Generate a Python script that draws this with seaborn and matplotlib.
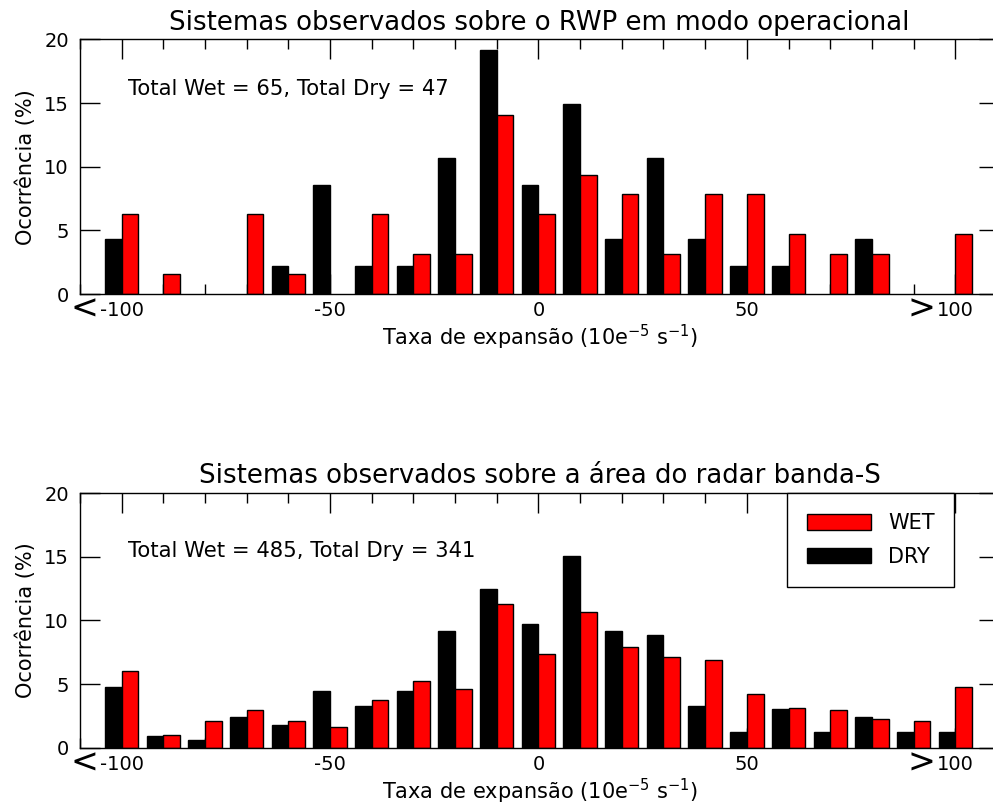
import numpy as np
import pandas as pd
import seaborn as sns
import matplotlib
matplotlib.use("Agg")
import matplotlib.pyplot as plt
from matplotlib.patches import Patch
from matplotlib.ticker import MultipleLocator

# Bin centres of the expansion-rate histogram (10e-5 s^-1)
centers = [-100, -90, -80, -70, -60, -50, -40, -30, -20, -10, 0,
           10, 20, 30, 40, 50, 60, 70, 80, 90, 100]

# Wind-profiler (RWP) operational-mode systems, occurrence (%)
rwp_dry = [4.29, 0.0, 0.0, 0.0, 2.20, 8.55, 2.20, 2.20, 10.67, 19.19, 8.55,
           14.90, 4.31, 10.67, 4.31, 2.20, 2.20, 0.0, 4.31, 0.0, 0.0]
rwp_wet = [6.27, 1.57, 0.0, 6.27, 1.57, 0.0, 6.27, 3.14, 3.14, 14.04, 6.27,
           9.39, 7.84, 3.14, 7.84, 7.84, 4.68, 3.14, 3.14, 0.0, 4.68]

# S-band radar area systems, occurrence (%)
sband_dry = [4.75, 0.92, 0.63, 2.39, 1.81, 4.46, 3.28, 4.46, 9.18, 12.46, 9.76,
             15.08, 9.18, 8.89, 3.28, 1.21, 3.02, 1.21, 2.39, 1.21, 1.21]
sband_wet = [6.06, 1.02, 2.10, 2.94, 2.10, 1.65, 3.75, 5.22, 4.59, 11.28, 7.34,
             10.65, 7.95, 7.11, 6.90, 4.20, 3.12, 2.94, 2.28, 2.10, 4.80]

titles = ["Sistemas observados sobre o RWP em modo operacional",
          "Sistemas observados sobre a área do radar banda-S"]
totals = ["Total Wet = 65, Total Dry = 47",
          "Total Wet = 485, Total Dry = 341"]
total_y = [15.6, 15.0]
major_ticks = [-100, -50, 0, 50, 100]
major_labels = ["-100", "-50", "0", "50", "100"]
xlabel = "Taxa de expansão (10e$^{-5}$ s$^{-1}$)"
ylabel = "Ocorrência (%)"
colors = {"DRY": "black", "WET": "red"}

sns.set_theme(style="ticks")
plt.rcParams["font.family"] = ["DejaVu Sans"]
plt.rcParams["mathtext.fontset"] = "dejavusans"
for key in ["text.color", "axes.labelcolor", "xtick.color", "ytick.color",
            "axes.edgecolor"]:
    plt.rcParams[key] = "black"

fig = plt.figure(figsize=(9.93, 8.05), dpi=100)
W, H = 993.0, 805.0
ax_left, ax_w, ax_h = 80 / W, 919 / W, 254.5 / H
axes = [fig.add_axes([ax_left, (H - 294) / H, ax_w, ax_h]),
        fig.add_axes([ax_left, (H - 747.7) / H, ax_w, ax_h])]

datasets = [(rwp_dry, rwp_wet), (sband_dry, sband_wet)]

for i, (ax, (dry, wet)) in enumerate(zip(axes, datasets)):
    df = pd.DataFrame({
        "center": centers * 2,
        "pct": dry + wet,
        "tipo": ["DRY"] * len(centers) + ["WET"] * len(centers),
    })
    df = df[df["pct"] > 0]
    sns.barplot(data=df, x="center", y="pct", hue="tipo",
                hue_order=["DRY", "WET"], palette=colors,
                native_scale=True, width=0.8, dodge=True, gap=0,
                edgecolor="black", linewidth=1.0, saturation=1,
                legend=False, ax=ax)
    ax.set_axisbelow(True)
    ax.set_xlim(-110, 110.5)
    ax.set_ylim(0, 20)
    ax.set_xticks(major_ticks)
    ax.set_xticklabels(major_labels)
    ax.xaxis.set_minor_locator(MultipleLocator(10))
    ax.set_yticks([0, 5, 10, 15, 20])
    ax.tick_params(which="both", direction="in", top=True, right=True,
                   width=1.0, color="black", labelsize=14)
    ax.tick_params(which="major", length=14.4)
    ax.tick_params(which="minor", length=7.2)
    ax.tick_params(axis="x", which="major", pad=5)
    ax.tick_params(axis="y", which="major", pad=8)
    for sp in ax.spines.values():
        sp.set_visible(True)
        sp.set_linewidth(1.0)
        sp.set_color("black")
    ax.set_xlabel(xlabel, fontsize=15, labelpad=2)
    ax.set_ylabel(ylabel, fontsize=15, labelpad=6)
    ax.set_title(titles[i], fontsize=18.7, pad=7)
    ax.text(-98.5, total_y[i], totals[i], fontsize=15.2, va="baseline")
    tr = ax.get_xaxis_transform()
    ax.text(-109.0, -0.06, "<", fontsize=24, ha="center", va="center",
            transform=tr, clip_on=False)
    ax.text(92.0, -0.06, ">", fontsize=24, ha="center", va="center",
            transform=tr, clip_on=False)

handles = [Patch(facecolor="red", edgecolor="black", linewidth=1.0, label="WET"),
           Patch(facecolor="black", edgecolor="black", linewidth=1.0, label="DRY")]
leg = axes[1].legend(handles=handles, loc="upper right",
                     bbox_to_anchor=(0.9513, 1.0), borderaxespad=0,
                     fontsize=15, handlelength=3.1, handleheight=0.77,
                     handletextpad=0.8, labelspacing=0.66, borderpad=0.95,
                     fancybox=False, framealpha=1, edgecolor="black")
leg.get_frame().set_linewidth(1.0)

fig.savefig("out.png", dpi=100)
